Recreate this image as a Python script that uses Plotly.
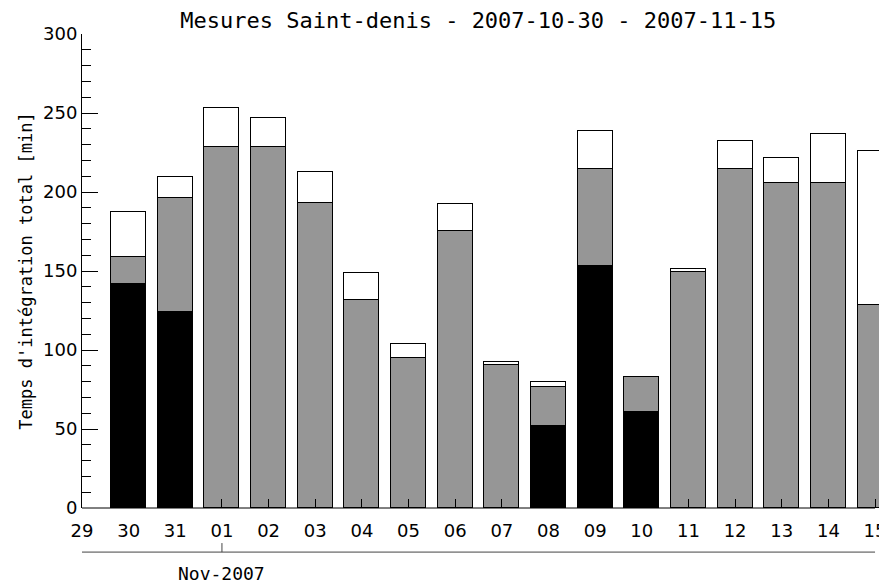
import plotly.graph_objects as go
from datetime import datetime, timedelta

# ---- data ----
dates = ["2007-10-30", "2007-10-31", "2007-11-01", "2007-11-02", "2007-11-03",
         "2007-11-04", "2007-11-05", "2007-11-06", "2007-11-07", "2007-11-08",
         "2007-11-09", "2007-11-10", "2007-11-11", "2007-11-12", "2007-11-13",
         "2007-11-14", "2007-11-15"]
black_vals = [141.5, 123.8, None, None, None, None, None, None, None, 51.8,
              153.0, 60.6, None, None, None, None, None]
gray_vals = [17.5, 72.6, 228.2, 228.2, 193.0, 131.6, 94.9, 175.6, 90.3, 24.6,
             61.5, 22.3, 149.5, 214.7, 205.9, 205.9, 128.8]
white_vals = [28.4, 12.9, 24.8, 18.5, 19.6, 17.2, 9.1, 16.8, 2.3, 3.4,
              24.2, 0.3, 1.9, 17.5, 15.6, 30.5, 97.3]

tick_dates = ["2007-10-29", "2007-10-30", "2007-10-31", "2007-11-01", "2007-11-02",
              "2007-11-03", "2007-11-04", "2007-11-05", "2007-11-06", "2007-11-07",
              "2007-11-08", "2007-11-09", "2007-11-10", "2007-11-11", "2007-11-12",
              "2007-11-13", "2007-11-14", "2007-11-15"]
tick_labels = ["29", "30", "31", "01", "02", "03", "04", "05", "06", "07",
               "08", "09", "10", "11", "12", "13", "14", "15"]

title = "Mesures Saint-denis - 2007-10-30 - 2007-11-15"
ytitle = "Temps d'intégration total [min]"
month_label = "Nov-2007"

# ---- layout helpers ----
FONT = "DejaVu Sans"
MONO = "DejaVu Sans Mono"
bar_w = 0.75 * 86400000
x_start = datetime(2007, 10, 29)
x_end = datetime(2007, 11, 15) + timedelta(hours=6.15)
span = (x_end - x_start).total_seconds()


def xpaper(d):
    t = datetime.strptime(d, "%Y-%m-%d")
    return (t - x_start).total_seconds() / span


fig = go.Figure()
common = dict(x=dates, width=[bar_w] * len(dates), hoverinfo="skip")
fig.add_trace(go.Bar(y=black_vals, marker=dict(color="#000000", line=dict(color="#000000", width=1)), **common))
fig.add_trace(go.Bar(y=gray_vals, marker=dict(color="#969696", line=dict(color="#000000", width=1)), **common))
fig.add_trace(go.Bar(y=white_vals, marker=dict(color="#ffffff", line=dict(color="#000000", width=1)), **common))

x0p = xpaper(tick_dates[0])
x1p = xpaper(tick_dates[-1])
xm = xpaper("2007-11-01")

shapes = [
    dict(type="line", xref="paper", yref="paper", x0=x0p, x1=x1p, y0=0, y1=0,
         line=dict(color="black", width=1), layer="above"),
    dict(type="line", xref="paper", yref="paper", x0=x0p, x1=x1p, y0=-0.093, y1=-0.093,
         line=dict(color="#444444", width=1)),
    dict(type="line", xref="paper", yref="paper", x0=xm, x1=xm, y0=-0.093, y1=-0.074,
         line=dict(color="#444444", width=1)),
]

# the page body adds an 8px offset, so the figure is sized to fit the window
fig.update_layout(
    width=879, height=576,
    margin=dict(l=74, r=0, t=26, b=76),
    paper_bgcolor="white", plot_bgcolor="white",
    barmode="stack", bargap=0, showlegend=False,
    font=dict(family=FONT, color="black", size=18),
    title=dict(text=title, x=0.535, xanchor="center", y=0.979, yanchor="middle",
               font=dict(size=22, family=MONO)),
    xaxis=dict(type="date", range=[x_start, x_end], tickvals=tick_dates, ticktext=tick_labels,
               ticks="inside", ticklen=9, tickcolor="black", showline=False, automargin=False,
               showgrid=False, zeroline=False, tickfont=dict(size=18), ticklabelstandoff=10),
    yaxis=dict(range=[0, 300], dtick=50, ticks="inside", ticklen=16, tickcolor="black",
               showline=True, linecolor="black", linewidth=1, showgrid=False, zeroline=False,
               tickfont=dict(size=18), automargin=False,
               minor=dict(dtick=10, ticks="inside", ticklen=9, tickcolor="black", showgrid=False),
               title=dict(text=ytitle, font=dict(size=17, family=MONO), standoff=6)),
    shapes=shapes,
    annotations=[dict(text=month_label, xref="paper", yref="paper", x=xm, y=-0.139,
                      xanchor="center", yanchor="middle", showarrow=False,
                      font=dict(size=18, family=MONO))],
)

fig.write_html("out.html")
